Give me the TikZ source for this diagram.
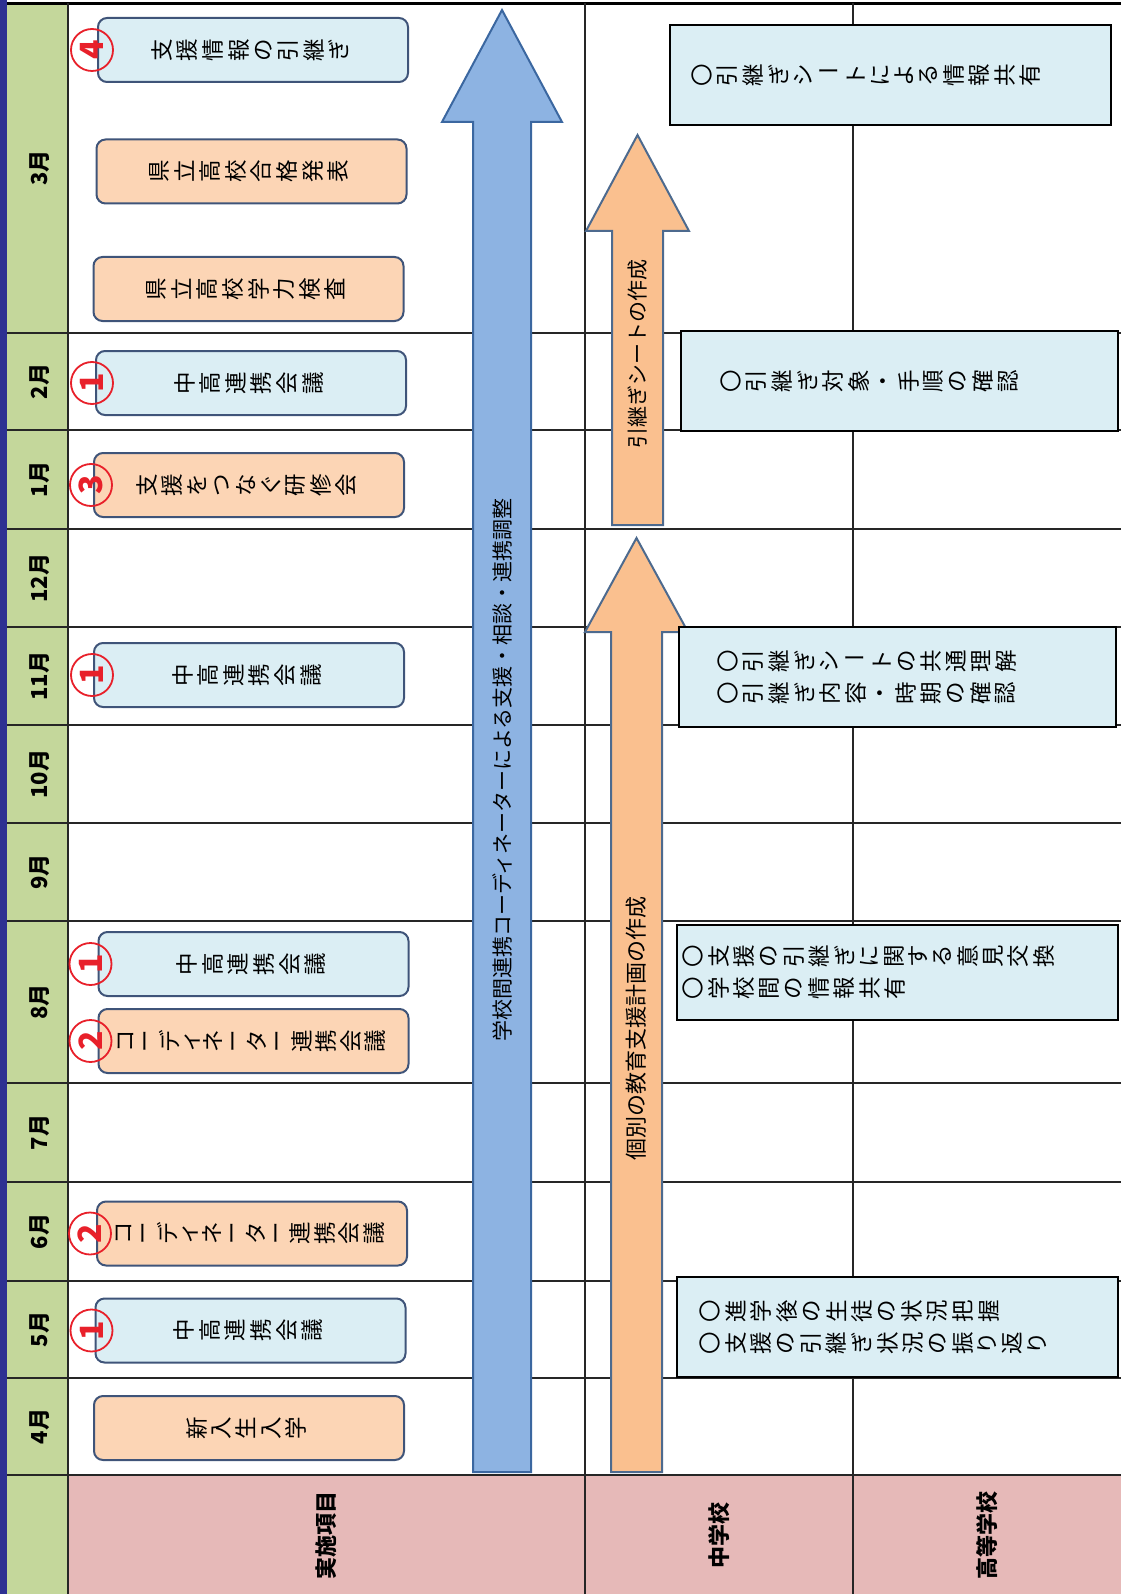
\documentclass[tikz,border=0pt]{standalone}
\usepackage{fontspec}
\setmainfont{Noto Sans CJK JP}
\usetikzlibrary{positioning}

\definecolor{frame}{HTML}{2E3192}
\definecolor{monthgreen}{HTML}{C4D79B}
\definecolor{headpink}{HTML}{E6B9B8}
\definecolor{paleblue}{HTML}{DBEEF4}
\definecolor{paleorange}{HTML}{FCD5B5}
\definecolor{boxedge}{HTML}{3F5479}
\definecolor{arrowblue}{HTML}{8DB3E2}
\definecolor{arrowblueedge}{HTML}{3B67A0}
\definecolor{arroworange}{HTML}{FAC08F}
\definecolor{arroworangeedge}{HTML}{4D6A8E}
\definecolor{badgered}{HTML}{E8202A}

% vertical stack of characters (turned by the node)
\makeatletter
\newdimen\tatestep \tatestep=24pt
\newcommand\tate[1]{\vtop{\offinterlineskip\@tfor\tatechar:=#1\do{\hbox to 1.05em{\vrule height .72\tatestep depth .28\tatestep width 0pt\hss\tatechar\hss}}}}
\makeatother
\newcommand\tatetwo[2]{\hbox{\tate{#2}\hskip 8pt\tate{#1}}}
\newcommand\chouon{\raisebox{6pt}{\rotatebox[origin=c]{-90}{ー}}}

\tikzset{
	grid line/.style = {draw=black!85, line width=1.5pt},
	month/.style = {rotate=90, inner sep=0pt, font=\fontsize{22}{24}\selectfont\bfseries},
	head/.style = {rotate=90, inner sep=0pt, font=\fontsize{22}{24}\selectfont\bfseries},
	event/.style = {rotate=90, draw=boxedge, line width=2pt, rounded corners=9pt, minimum width=64pt, minimum height=310pt, inner sep=0pt, font=\fontsize{22.5}{24}\selectfont},
	badge/.style = {circle, rotate=90, draw=badgered, line width=1.8pt, minimum size=42pt, inner sep=0pt, text=badgered, font=\fontsize{32}{32}\selectfont\bfseries},
	note/.style = {draw=black, line width=2.8pt, fill=paleblue, inner sep=0pt, minimum width=441pt, minimum height=100pt},
	notetext/.style = {rotate=90, anchor=north, inner sep=0pt, font=\fontsize{22.5}{24}\selectfont},
	flow/.style = {line width=2pt, line join=miter},
	flowtext/.style = {rotate=90, inner sep=0pt, font=\fontsize{21}{24}\selectfont}
}

\begin{document}
\begin{tikzpicture}[x=1pt, y=-1pt]
	\useasboundingbox (0,0) rectangle (1121,1594);
	% background of the table
	\fill[frame] (0,0) rectangle (7,1594);
	\fill[monthgreen] (7,3) rectangle (68,1594);
	\fill[headpink] (68,1475) rectangle (1121,1594);
	\draw[black, line width=2.5pt] (7,3.5) -- (1121,3.5);
	\foreach \y in {333,430,529,627,725,823,921,1083,1182,1281,1378,1475}
		\draw[grid line] (7,\y) -- (1121,\y);
	\foreach \x in {68,585,853}
		\draw[grid line] (\x,3) -- (\x,1594);
	
	% months
	\foreach \m/\y [count=\i] in {3月/168, 2月/381.5, 1月/479.5, 12月/578, 11月/676, 10月/774, 9月/872, 8月/1002, 7月/1132.5, 6月/1231.5, 5月/1329.5, 4月/1426.5}
		\node[month] (m\i) at (40,\y) {\m};
	
	% headings
	\node[head] (items) at (326.5,1535) {実施項目};
	\node[head] (junior) at (719,1535) {中学校};
	\node[head] (senior) at (987,1535) {高等学校};
	
	% arrows
	\filldraw[flow, fill=arrowblue, draw=arrowblueedge] (473,1472) -- (473,122) -- (442,122) -- (502,10) -- (562,122) -- (531,122) -- (531,1472) -- cycle;
	\node[flowtext] (coord) at (502,770) {学校間連携コーディネーターによる支援・相談・連携調整};
	\filldraw[flow, fill=arroworange, draw=arroworangeedge] (611,1472) -- (611,632) -- (585,632) -- (636.5,538) -- (688,632) -- (662,632) -- (662,1472) -- cycle;
	\node[flowtext, font=\fontsize{22}{24}\selectfont] (plan) at (636.5,1028) {個別の教育支援計画の作成};
	\filldraw[flow, fill=arroworange, draw=arroworangeedge] (612,525) -- (612,231) -- (586,231) -- (637.5,135) -- (689,231) -- (663,231) -- (663,525) -- cycle;
	\node[flowtext] (sheet) at (637.5,354) {引継ぎシートの作成};
	
	% events
	\node[event, fill=paleblue] (handover) at (253,50) {\tate{支援情報の引継ぎ}};
	\node[event, fill=paleorange] (result) at (251.5,171.5) {\tate{県立高校合格発表}};
	\node[event, fill=paleorange] (exam) at (248.5,289) {\tate{県立高校学力検査}};
	\node[event, fill=paleblue] (meetFeb) at (251,383) {\tate{中高連携会議}};
	\node[event, fill=paleorange] (training) at (249,485) {\tate{支援をつなぐ研修会}};
	\node[event, fill=paleblue] (meetNov) at (249,675) {\tate{中高連携会議}};
	\node[event, fill=paleblue] (meetAug) at (253.5,964) {\tate{中高連携会議}};
	\node[event, fill=paleorange] (coordAug) at (253.5,1041) {\tatestep=20pt\tate{コーディネーター連携会議}};
	\node[event, fill=paleorange] (coordJun) at (252,1233.5) {\tatestep=20pt\tate{コーディネーター連携会議}};
	\node[event, fill=paleblue] (meetMay) at (250.5,1330.5) {\tate{中高連携会議}};
	\node[event, fill=paleorange] (entry) at (249,1428) {\tate{新入生入学}};
	
	\node[badge] (bHandover) at ([xshift=-5pt]handover.north) {4};
	\node[badge] (bMeetFeb) at ([xshift=-3pt]meetFeb.north) {1};
	\node[badge] (bTraining) at ([xshift=-2pt]training.north) {3};
	\node[badge] (bMeetNov) at ([xshift=-1pt]meetNov.north) {1};
	\node[badge] (bMeetAug) at ([xshift=-7pt]meetAug.north) {1};
	\node[badge] (bCoordAug) at ([xshift=-7pt]coordAug.north) {2};
	\node[badge] (bCoordJun) at ([xshift=-6pt]coordJun.north) {2};
	\node[badge] (bMeetMay) at ([xshift=-3pt]meetMay.north) {1};
	
	% notes for the schools
	\node[note] (share) at (890.5,75) {};
	\node[notetext] (shareText) at ([xshift=23pt]share.west) {\tate{〇引継ぎシ{\chouon}トによる情報共有}};
	\node[note, minimum width=437pt] (check) at (899.5,381) {};
	\node[notetext] (checkText) at ([xshift=41pt]check.west) {\tate{〇引継ぎ対象・手順の確認}};
	\node[note, minimum width=437pt] (common) at (897.5,677) {};
	\node[notetext] (commonText) at ([xshift=40pt]common.west) {\tatetwo{〇引継ぎシ{\chouon}トの共通理解}{〇引継ぎ内容・時期の確認}};
	\node[note, minimum height=95pt] (opinion) at (897.5,972.5) {};
	\node[notetext] (opinionText) at ([xshift=7pt]opinion.west) {\tatetwo{〇支援の引継ぎに関する意見交換}{〇学校間の情報共有}};
	\node[note] (review) at (897.5,1327) {};
	\node[notetext] (reviewText) at ([xshift=24pt]review.west) {\tatetwo{〇進学後の生徒の状況把握}{〇支援の引継ぎ状況の振り返り}};
\end{tikzpicture}
\end{document}
